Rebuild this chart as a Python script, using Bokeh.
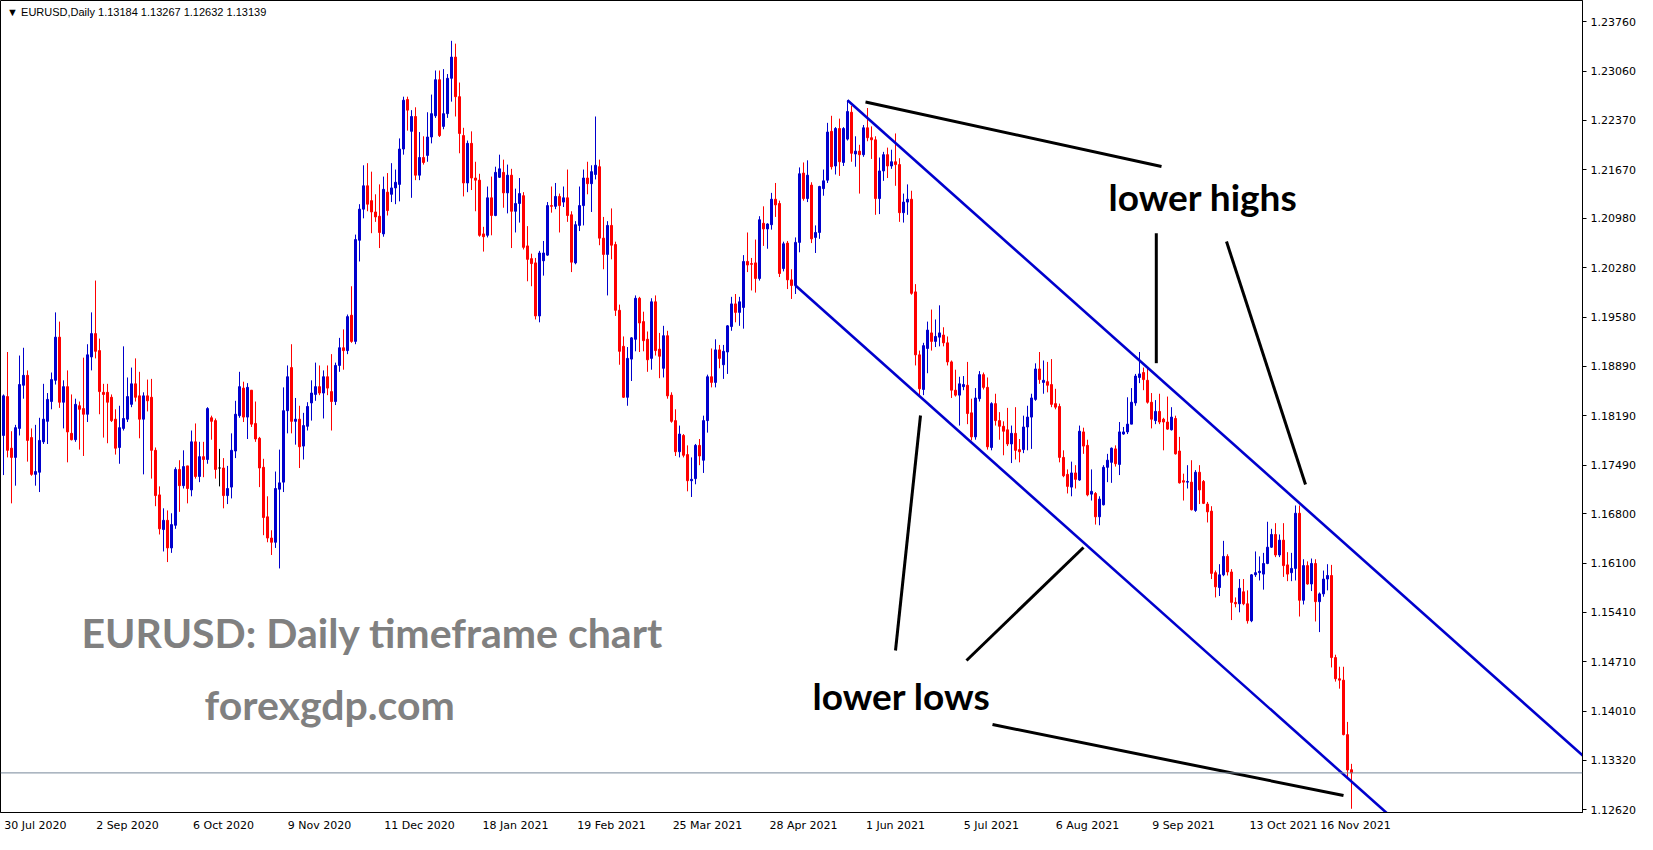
import pandas as pd
from bokeh.plotting import figure
from bokeh.models import ColumnDataSource, FixedTicker, PrintfTickFormatter, Label, Span
from bokeh.embed import file_html
from bokeh.resources import INLINE

symbol = "EURUSD"
timeframe = "Daily"
holidays = ["2020-12-25", "2021-01-01"]
dates = [d for d in pd.bdate_range("2020-07-30", "2021-11-17")
         if d.strftime("%Y-%m-%d") not in holidays]

opens = [
    1.1791, 1.1846, 1.1773, 1.1760, 1.1801, 1.1862, 1.1876, 1.1788, 1.1736, 1.1739,
    1.1782, 1.1811, 1.1839, 1.1869, 1.1930, 1.1838, 1.1860, 1.1794, 1.1785, 1.1833,
    1.1829, 1.1821, 1.1902, 1.1935, 1.1911, 1.1852, 1.1852, 1.1845, 1.1814, 1.1774,
    1.1801, 1.1814, 1.1835, 1.1864, 1.1847, 1.1814, 1.1847, 1.1845, 1.1770, 1.1707,
    1.1658, 1.1671, 1.1632, 1.1664, 1.1743, 1.1720, 1.1748, 1.1714, 1.1782, 1.1733,
    1.1761, 1.1757, 1.1816, 1.1812, 1.1745, 1.1745, 1.1706, 1.1718, 1.1769, 1.1819,
    1.1858, 1.1817, 1.1855, 1.1808, 1.1787, 1.1746, 1.1676, 1.1646, 1.1640, 1.1715,
    1.1725, 1.1826, 1.1887, 1.1811, 1.1814, 1.1776, 1.1804, 1.1837, 1.1849, 1.1860,
    1.1851, 1.1874, 1.1853, 1.1839, 1.1890, 1.1915, 1.1911, 1.1961, 1.1924, 1.2067,
    1.2111, 1.2144, 1.2123, 1.2107, 1.2101, 1.2076, 1.2135, 1.2132, 1.2141, 1.2146,
    1.2196, 1.2266, 1.2221, 1.2242, 1.2159, 1.2184, 1.2187, 1.2213, 1.2243, 1.2294,
    1.2228, 1.2246, 1.2296, 1.2326, 1.2270, 1.2215, 1.2148, 1.2204, 1.2155, 1.2152,
    1.2076, 1.2074, 1.2127, 1.2102, 1.2156, 1.2163, 1.2134, 1.2159, 1.2108, 1.2119,
    1.2130, 1.2059, 1.2041, 1.2035, 1.1960, 1.2038, 1.2046, 1.2116, 1.2115, 1.2129,
    1.2121, 1.2127, 1.2103, 1.2035, 1.2088, 1.2116, 1.2155, 1.2147, 1.2160, 1.2171,
    1.2070, 1.2047, 1.2088, 1.2061, 1.1968, 1.1917, 1.1845, 1.1899, 1.1927, 1.1985,
    1.1952, 1.1927, 1.1900, 1.1980, 1.1913, 1.1886, 1.1932, 1.1848, 1.1812, 1.1768,
    1.1791, 1.1764, 1.1727, 1.1730, 1.1777, 1.1756, 1.1812, 1.1874, 1.1866, 1.1912,
    1.1891, 1.1909, 1.1945, 1.1977, 1.1965, 1.1972, 1.2037, 1.2034, 1.2035, 1.2013,
    1.2091, 1.2083, 1.2089, 1.2125, 1.2119, 1.2027, 1.2063, 1.2011, 1.2003, 1.2064,
    1.2162, 1.2126, 1.2145, 1.2071, 1.2078, 1.2140, 1.2152, 1.2221, 1.2172, 1.2225,
    1.2177, 1.2210, 1.2248, 1.2189, 1.2193, 1.2188, 1.2226, 1.2212, 1.2209, 1.2126,
    1.2165, 1.2188, 1.2172, 1.2178, 1.2174, 1.2106, 1.2121, 1.2125, 1.1994, 1.1905,
    1.1856, 1.1914, 1.1936, 1.1924, 1.1930, 1.1933, 1.1922, 1.1895, 1.1855, 1.1848,
    1.1860, 1.1862, 1.1823, 1.1789, 1.1843, 1.1877, 1.1859, 1.1774, 1.1836, 1.1812,
    1.1804, 1.1799, 1.1779, 1.1794, 1.1771, 1.1771, 1.1803, 1.1817, 1.1842, 1.1885,
    1.1866, 1.1867, 1.1863, 1.1836, 1.1832, 1.1760, 1.1736, 1.1718, 1.1738, 1.1728,
    1.1796, 1.1777, 1.1708, 1.1709, 1.1676, 1.1693, 1.1746, 1.1753, 1.1772, 1.1750,
    1.1793, 1.1796, 1.1807, 1.1837, 1.1873, 1.1880, 1.1869, 1.1838, 1.1812, 1.1825,
    1.1814, 1.1810, 1.1799, 1.1815, 1.1769, 1.1727, 1.1725, 1.1725, 1.1685, 1.1739,
    1.1726, 1.1694, 1.1684, 1.1597, 1.1576, 1.1594, 1.1620, 1.1598, 1.1555, 1.1553,
    1.1570, 1.1553, 1.1529, 1.1594, 1.1597, 1.1595, 1.1610, 1.1633, 1.1651, 1.1622,
    1.1643, 1.1608, 1.1597, 1.1603, 1.1681, 1.1558, 1.1607, 1.1581, 1.1610, 1.1556,
    1.1567, 1.1588, 1.1593, 1.1477, 1.1447, 1.1445, 1.1368, 1.13184,
]
highs = [
    1.1849, 1.1909, 1.1797, 1.1806, 1.1904, 1.1915, 1.1883, 1.1801, 1.1806, 1.1816,
    1.1864, 1.1851, 1.1880, 1.1965, 1.1952, 1.1869, 1.1883, 1.1849, 1.1843, 1.1839,
    1.1901, 1.1920, 1.1965, 1.2010, 1.1928, 1.1864, 1.1864, 1.1849, 1.1828, 1.1833,
    1.1917, 1.1873, 1.1887, 1.1900, 1.1881, 1.1852, 1.1870, 1.1871, 1.1774, 1.1719,
    1.1688, 1.1685, 1.1681, 1.1746, 1.1756, 1.1770, 1.1748, 1.1798, 1.1808, 1.1782,
    1.1782, 1.1831, 1.1819, 1.1815, 1.1772, 1.1759, 1.1748, 1.1794, 1.1840, 1.1881,
    1.1867, 1.1865, 1.1855, 1.1839, 1.1789, 1.1758, 1.1705, 1.1657, 1.1740, 1.1771,
    1.1859, 1.1890, 1.1920, 1.1844, 1.1833, 1.1823, 1.1838, 1.1869, 1.1894, 1.1890,
    1.1883, 1.1890, 1.1906, 1.1894, 1.1929, 1.1941, 1.1962, 1.2002, 1.2075, 1.2118,
    1.2173, 1.2176, 1.2164, 1.2132, 1.2146, 1.2157, 1.2162, 1.2176, 1.2167, 1.2211,
    1.2270, 1.2270, 1.2251, 1.2255, 1.2220, 1.2214, 1.2248, 1.2273, 1.2307, 1.2307,
    1.2309, 1.2302, 1.2349, 1.2345, 1.2290, 1.2226, 1.2208, 1.2221, 1.2178, 1.2161,
    1.2086, 1.2143, 1.2157, 1.2171, 1.2188, 1.2181, 1.2174, 1.2168, 1.2140, 1.2155,
    1.2135, 1.2087, 1.2048, 1.2042, 1.2052, 1.2066, 1.2121, 1.2143, 1.2148, 1.2133,
    1.2143, 1.2167, 1.2108, 1.2094, 1.2143, 1.2167, 1.2178, 1.2173, 1.2242, 1.2181,
    1.2100, 1.2094, 1.2112, 1.2065, 1.1976, 1.1931, 1.1916, 1.1930, 1.1989, 1.1987,
    1.1966, 1.1938, 1.1985, 1.1989, 1.1936, 1.1946, 1.1939, 1.1852, 1.1828, 1.1805,
    1.1793, 1.1777, 1.1760, 1.1779, 1.1786, 1.1819, 1.1877, 1.1914, 1.1927, 1.1919,
    1.1919, 1.1947, 1.1987, 1.1991, 1.1987, 1.2046, 1.2078, 1.2042, 1.2068, 1.2101,
    1.2115, 1.2091, 1.2134, 1.2148, 1.2123, 1.2065, 1.2066, 1.2026, 1.2071, 1.2170,
    1.2177, 1.2180, 1.2149, 1.2088, 1.2144, 1.2167, 1.2233, 1.2243, 1.2227, 1.2239,
    1.2227, 1.2265, 1.2257, 1.2214, 1.2202, 1.2230, 1.2254, 1.2228, 1.2214, 1.2184,
    1.2192, 1.2198, 1.2195, 1.2218, 1.2183, 1.2133, 1.2146, 1.2137, 1.2005, 1.1911,
    1.1922, 1.1952, 1.1969, 1.1955, 1.1975, 1.1944, 1.1931, 1.1897, 1.1884, 1.1874,
    1.1875, 1.1895, 1.1843, 1.1858, 1.1882, 1.1880, 1.1873, 1.1838, 1.1850, 1.1824,
    1.1811, 1.1830, 1.1805, 1.1831, 1.1786, 1.1819, 1.1833, 1.1850, 1.1893, 1.1909,
    1.1897, 1.1895, 1.1899, 1.1857, 1.1836, 1.1770, 1.1743, 1.1754, 1.1749, 1.1805,
    1.1802, 1.1785, 1.1743, 1.1711, 1.1705, 1.1749, 1.1765, 1.1774, 1.1777, 1.1810,
    1.1803, 1.1845, 1.1858, 1.1878, 1.1909, 1.1887, 1.1885, 1.1851, 1.1841, 1.1850,
    1.1816, 1.1846, 1.1831, 1.1819, 1.1789, 1.1737, 1.1749, 1.1756, 1.1742, 1.1749,
    1.1728, 1.1697, 1.1691, 1.1600, 1.1609, 1.1642, 1.1623, 1.1602, 1.1562, 1.1588,
    1.1588, 1.1572, 1.1595, 1.1627, 1.1620, 1.1625, 1.1669, 1.1659, 1.1667, 1.1651,
    1.1667, 1.1626, 1.1625, 1.1692, 1.1692, 1.1616, 1.1613, 1.1617, 1.1616, 1.1569,
    1.1600, 1.1609, 1.1608, 1.1481, 1.1464, 1.1464, 1.1386, 1.13267,
]
lows = [
    1.1735, 1.1760, 1.1695, 1.1720, 1.1791, 1.1843, 1.1754, 1.1734, 1.1720, 1.1711,
    1.1779, 1.1779, 1.1828, 1.1863, 1.1830, 1.1801, 1.1753, 1.1784, 1.1782, 1.1771,
    1.1762, 1.1810, 1.1883, 1.1900, 1.1821, 1.1788, 1.1780, 1.1810, 1.1764, 1.1751,
    1.1798, 1.1810, 1.1831, 1.1839, 1.1787, 1.1736, 1.1825, 1.1730, 1.1691, 1.1651,
    1.1627, 1.1612, 1.1625, 1.1659, 1.1683, 1.1716, 1.1695, 1.1705, 1.1730, 1.1725,
    1.1732, 1.1751, 1.1785, 1.1730, 1.1719, 1.1688, 1.1694, 1.1702, 1.1759, 1.1816,
    1.1810, 1.1786, 1.1803, 1.1782, 1.1718, 1.1650, 1.1640, 1.1622, 1.1632, 1.1603,
    1.1711, 1.1794, 1.1794, 1.1778, 1.1745, 1.1757, 1.1798, 1.1812, 1.1840, 1.1848,
    1.1815, 1.1848, 1.1798, 1.1834, 1.1881, 1.1884, 1.1906, 1.1922, 1.1920, 1.2037,
    1.2098, 1.2108, 1.2077, 1.2093, 1.2056, 1.2072, 1.2102, 1.2121, 1.2118, 1.2122,
    1.2188, 1.2222, 1.2127, 1.2152, 1.2152, 1.2174, 1.2178, 1.2204, 1.2240, 1.2213,
    1.2224, 1.2240, 1.2263, 1.2242, 1.2190, 1.2129, 1.2135, 1.2138, 1.2108, 1.2072,
    1.2051, 1.2071, 1.2074, 1.2101, 1.2155, 1.2113, 1.2105, 1.2056, 1.2078, 1.2092,
    1.2054, 1.2009, 1.2002, 1.1955, 1.1951, 1.2017, 1.2045, 1.2106, 1.2111, 1.2078,
    1.2114, 1.2093, 1.2022, 1.2033, 1.2080, 1.2088, 1.2132, 1.2107, 1.2153, 1.2060,
    1.2026, 1.1989, 1.2040, 1.1960, 1.1891, 1.1844, 1.1833, 1.1868, 1.1910, 1.1909,
    1.1910, 1.1881, 1.1884, 1.1904, 1.1872, 1.1873, 1.1843, 1.1809, 1.1762, 1.1760,
    1.1760, 1.1712, 1.1704, 1.1722, 1.1749, 1.1738, 1.1795, 1.1859, 1.1859, 1.1886,
    1.1871, 1.1878, 1.1939, 1.1951, 1.1946, 1.1942, 1.2022, 1.1996, 1.1993, 1.2010,
    1.2059, 1.2055, 1.2082, 1.2100, 1.2015, 1.2023, 1.1998, 1.1984, 1.1991, 1.2050,
    1.2123, 1.2121, 1.2063, 1.2049, 1.2069, 1.2130, 1.2148, 1.2167, 1.2160, 1.2158,
    1.2172, 1.2208, 1.2178, 1.2171, 1.2133, 1.2185, 1.2207, 1.2182, 1.2103, 1.2104,
    1.2151, 1.2155, 1.2168, 1.2144, 1.2093, 1.2092, 1.2103, 1.1990, 1.1890, 1.1848,
    1.1848, 1.1879, 1.1911, 1.1916, 1.1917, 1.1917, 1.1890, 1.1844, 1.1846, 1.1805,
    1.1855, 1.1807, 1.1784, 1.1785, 1.1839, 1.1856, 1.1771, 1.1770, 1.1805, 1.1785,
    1.1763, 1.1776, 1.1752, 1.1757, 1.1753, 1.1766, 1.1770, 1.1772, 1.1840, 1.1864,
    1.1850, 1.1852, 1.1831, 1.1828, 1.1753, 1.1732, 1.1709, 1.1705, 1.1716, 1.1727,
    1.1765, 1.1705, 1.1699, 1.1665, 1.1664, 1.1692, 1.1725, 1.1724, 1.1747, 1.1735,
    1.1792, 1.1793, 1.1807, 1.1833, 1.1865, 1.1855, 1.1836, 1.1801, 1.1807, 1.1807,
    1.1770, 1.1799, 1.1798, 1.1764, 1.1723, 1.1699, 1.1716, 1.1685, 1.1683, 1.1694,
    1.1694, 1.1668, 1.1588, 1.1562, 1.1564, 1.1592, 1.1593, 1.1530, 1.1548, 1.1541,
    1.1551, 1.1525, 1.1527, 1.1591, 1.1586, 1.1573, 1.1609, 1.1632, 1.1619, 1.1619,
    1.1591, 1.1585, 1.1585, 1.1586, 1.1535, 1.1552, 1.1580, 1.1571, 1.1528, 1.1513,
    1.1563, 1.1572, 1.1463, 1.1443, 1.1433, 1.1367, 1.1308, 1.12632,
]
closes = [
    1.1847, 1.1770, 1.1760, 1.1802, 1.1863, 1.1876, 1.1784, 1.1736, 1.1740, 1.1784,
    1.1814, 1.1842, 1.1870, 1.1930, 1.1838, 1.1860, 1.1796, 1.1785, 1.1835, 1.1828,
    1.1821, 1.1905, 1.1935, 1.1910, 1.1853, 1.1849, 1.1838, 1.1812, 1.1773, 1.1802,
    1.1815, 1.1846, 1.1864, 1.1845, 1.1814, 1.1847, 1.1840, 1.1770, 1.1706, 1.1659,
    1.1671, 1.1632, 1.1665, 1.1743, 1.1720, 1.1747, 1.1716, 1.1782, 1.1733, 1.1761,
    1.1757, 1.1829, 1.1811, 1.1743, 1.1745, 1.1706, 1.1716, 1.1770, 1.1821, 1.1860,
    1.1817, 1.1859, 1.1807, 1.1786, 1.1745, 1.1675, 1.1646, 1.1640, 1.1716, 1.1724,
    1.1826, 1.1874, 1.1811, 1.1814, 1.1775, 1.1805, 1.1832, 1.1851, 1.1860, 1.1851,
    1.1874, 1.1858, 1.1839, 1.1890, 1.1915, 1.1911, 1.1959, 1.1924, 1.2068, 1.2111,
    1.2144, 1.2118, 1.2107, 1.2100, 1.2078, 1.2139, 1.2109, 1.2141, 1.2149, 1.2196,
    1.2265, 1.2251, 1.2242, 1.2159, 1.2184, 1.2177, 1.2213, 1.2246, 1.2294, 1.2215,
    1.2246, 1.2296, 1.2326, 1.2270, 1.2218, 1.2148, 1.2204, 1.2155, 1.2152, 1.2074,
    1.2072, 1.2127, 1.2102, 1.2163, 1.2168, 1.2134, 1.2159, 1.2108, 1.2119, 1.2133,
    1.2057, 1.2040, 1.2034, 1.1960, 1.2049, 1.2049, 1.2116, 1.2115, 1.2129, 1.2116,
    1.2127, 1.2102, 1.2036, 1.2089, 1.2116, 1.2155, 1.2147, 1.2164, 1.2173, 1.2070,
    1.2047, 1.2088, 1.2060, 1.1968, 1.1910, 1.1845, 1.1900, 1.1929, 1.1985, 1.1950,
    1.1925, 1.1898, 1.1980, 1.1911, 1.1903, 1.1932, 1.1847, 1.1811, 1.1768, 1.1793,
    1.1763, 1.1727, 1.1729, 1.1777, 1.1762, 1.1812, 1.1874, 1.1866, 1.1912, 1.1900,
    1.1910, 1.1946, 1.1977, 1.1965, 1.1980, 1.2037, 1.2032, 1.2033, 1.2013, 1.2096,
    1.2083, 1.2090, 1.2125, 1.2117, 1.2020, 1.2062, 1.2011, 1.2003, 1.2064, 1.2161,
    1.2126, 1.2159, 1.2069, 1.2078, 1.2143, 1.2151, 1.2220, 1.2171, 1.2225, 1.2178,
    1.2225, 1.2249, 1.2190, 1.2193, 1.2188, 1.2226, 1.2212, 1.2209, 1.2126, 1.2165,
    1.2188, 1.2172, 1.2178, 1.2174, 1.2106, 1.2121, 1.2125, 1.1992, 1.1905, 1.1857,
    1.1918, 1.1940, 1.1924, 1.1931, 1.1936, 1.1922, 1.1895, 1.1855, 1.1848, 1.1864,
    1.1863, 1.1822, 1.1789, 1.1844, 1.1877, 1.1859, 1.1775, 1.1836, 1.1812, 1.1804,
    1.1797, 1.1779, 1.1794, 1.1770, 1.1768, 1.1803, 1.1817, 1.1844, 1.1885, 1.1870,
    1.1869, 1.1862, 1.1835, 1.1831, 1.1760, 1.1734, 1.1719, 1.1738, 1.1729, 1.1797,
    1.1776, 1.1707, 1.1712, 1.1676, 1.1701, 1.1746, 1.1756, 1.1773, 1.1751, 1.1796,
    1.1796, 1.1807, 1.1838, 1.1875, 1.1878, 1.1870, 1.1838, 1.1814, 1.1825, 1.1810,
    1.1810, 1.1800, 1.1817, 1.1765, 1.1724, 1.1725, 1.1726, 1.1686, 1.1739, 1.1714,
    1.1695, 1.1683, 1.1596, 1.1577, 1.1594, 1.1620, 1.1598, 1.1555, 1.1553, 1.1575,
    1.1553, 1.1529, 1.1594, 1.1597, 1.1599, 1.1610, 1.1633, 1.1651, 1.1622, 1.1643,
    1.1607, 1.1595, 1.1603, 1.1681, 1.1558, 1.1607, 1.1581, 1.1610, 1.1556, 1.1567,
    1.1588, 1.1593, 1.1477, 1.1447, 1.1445, 1.1368, 1.1318, 1.13139,
]

price_ticks = [1.12620, 1.13320, 1.14010, 1.14710, 1.15410, 1.16100, 1.16800,
               1.17490, 1.18190, 1.18890, 1.19580, 1.20280, 1.20980, 1.21670,
               1.22370, 1.23060, 1.23760]
date_ticks = ["2020-07-30", "2020-09-02", "2020-10-06", "2020-11-09", "2020-12-11",
              "2021-01-18", "2021-02-19", "2021-03-25", "2021-04-28", "2021-06-01",
              "2021-07-05", "2021-08-06", "2021-09-09", "2021-10-13", "2021-11-16"]

# trend channel anchors (date, price)
upper_channel = [("2021-05-25", 1.2265), ("2021-09-03", 1.1897)]
lower_channel = [("2021-05-06", 1.2003), ("2021-08-06", 1.1670)]

# ---------------------------------------------------------------------------
date_keys = [d.strftime("%Y-%m-%d") for d in dates]
pos = {k: i for i, k in enumerate(date_keys)}
idx = list(range(len(dates)))

BULL, BEAR, DOJI = "#0000CD", "#FF0000", "#000000"
colors = [BULL if c > o else (BEAR if c < o else DOJI) for o, c in zip(opens, closes)]
src = ColumnDataSource(dict(
    x=idx, o=opens, h=highs, l=lows, c=closes,
    top=[max(o, c) for o, c in zip(opens, closes)],
    bot=[min(o, c) for o, c in zip(opens, closes)],
    color=colors,
))

FRAME_W, FRAME_H = 1582, 812
PX_PER_BAR = 4.0
PRICE_PER_PX = 0.00014139
x_start = -0.75
x_end = x_start + FRAME_W / PX_PER_BAR
y_top = 1.24060
y_bottom = y_top - FRAME_H * PRICE_PER_PX

p = figure(frame_width=FRAME_W, frame_height=FRAME_H,
           x_range=(x_start, x_end), y_range=(y_bottom, y_top),
           output_backend="svg", toolbar_location=None,
           y_axis_location="right",
           min_border_left=0, min_border_top=0,
           min_border_right=0, min_border_bottom=0)
p.background_fill_color = "white"
p.border_fill_color = "white"
p.outline_line_color = "black"
p.outline_line_width = 1
p.xgrid.visible = False
p.ygrid.visible = False

# candles
p.segment(x0="x", y0="l", x1="x", y1="h", color="color", line_width=1, source=src)
p.vbar(x="x", width=0.5, top="top", bottom="bot", fill_color="color",
       line_color="color", line_width=1, source=src)

# channel lines
def channel(anchors, extend_to):
    (d0, p0), (d1, p1) = anchors
    i0, i1 = pos[d0], pos[d1]
    slope = (p1 - p0) / (i1 - i0)
    return [i0, extend_to], [p0, p0 + slope * (extend_to - i0)]

ux, uy = channel(upper_channel, x_end + 2)
p.line(ux, uy, line_color="#0000CD", line_width=2.6)
lx, ly = channel(lower_channel, 360)
p.line(lx, ly, line_color="#0000CD", line_width=2.6)

# hand-drawn black pointer lines
pointers = [
    ((215.5, 1.22625), (289.5, 1.21713)),
    ((288.2, 1.20770), (288.2, 1.18932)),
    ((305.75, 1.20652), (325.5, 1.17217)),
    ((223.0, 1.14870), (229.25, 1.18192)),
    ((240.75, 1.14728), (270.0, 1.16326)),
    ((247.25, 1.13823), (335.0, 1.12819)),
]
p.segment(x0=[a[0] for a, b in pointers], y0=[a[1] for a, b in pointers],
          x1=[b[0] for a, b in pointers], y1=[b[1] for a, b in pointers],
          line_color="black", line_width=3)

# current price line
p.add_layout(Span(location=closes[-1], dimension="width",
                  line_color="#778899", line_width=1))

# texts
p.add_layout(Label(x=276.25, y=1.2129, text="lower highs", text_font="Lato",
                   text_font_style="bold", text_font_size="37px",
                   text_color="black", text_align="left", text_baseline="alphabetic"))
p.add_layout(Label(x=202.25, y=1.1423, text="lower lows", text_font="Lato",
                   text_font_style="bold", text_font_size="37px",
                   text_color="black", text_align="left", text_baseline="alphabetic"))
p.add_layout(Label(x=19.5, y=1.1513, text=f"{symbol}: {timeframe} timeframe chart",
                   text_font="Lato", text_font_style="bold", text_font_size="41px",
                   text_color="#808080", text_align="left", text_baseline="alphabetic"))
p.add_layout(Label(x=50.25, y=1.1411, text="forexgdp.com",
                   text_font="Lato", text_font_style="bold", text_font_size="41px",
                   text_color="#808080", text_align="left", text_baseline="alphabetic"))
header = (f"\u25BC {symbol},{timeframe}  {opens[-1]:.5f} {highs[-1]:.5f} "
          f"{lows[-1]:.5f} {closes[-1]:.5f}")
p.add_layout(Label(x=0.9, y=1.23904, text=header, text_font="Liberation Sans",
                   text_font_size="11px", text_color="black",
                   text_align="left", text_baseline="middle"))

# price label on the axis
p.add_layout(Label(x=x_end, y=closes[-1], x_offset=1, text=f"{closes[-1]:.5f}",
                   text_font="DejaVu Sans", text_font_size="11px",
                   text_color="black", text_align="left", text_baseline="middle",
                   background_fill_color="white", border_line_color="black",
                   padding=2))

# y axis (right)
ya = p.yaxis[0]
ya.ticker = FixedTicker(ticks=price_ticks)
ya.formatter = PrintfTickFormatter(format="%.5f")
ya.major_label_text_font = "DejaVu Sans"
ya.major_label_text_font_size = "11px"
ya.major_label_text_color = "black"
ya.major_tick_out = 4
ya.major_tick_in = 0
ya.minor_tick_out = 0
ya.minor_tick_in = 0
ya.major_label_standoff = 4
ya.axis_line_color = "black"
ya.major_tick_line_color = "black"

# x axis (bottom): text starts at the labelled bar, as in MT4
tick_pos, overrides = [], {}
last = len(date_ticks) - 1
for k, d in enumerate(date_ticks):
    ts = pd.Timestamp(d)
    lab = f"{ts.day} {ts.strftime('%b %Y')}"
    t = pos[d] + int(round(len(lab) * 5.8 / 2 / PX_PER_BAR))
    if k == last:
        t -= 6
    tick_pos.append(t)
    overrides[t] = lab
xa = p.xaxis[0]
xa.ticker = FixedTicker(ticks=tick_pos)
xa.major_label_overrides = overrides
xa.major_label_text_font = "DejaVu Sans"
xa.major_label_text_font_size = "11px"
xa.major_label_text_color = "black"
xa.major_tick_out = 0
xa.major_tick_in = 0
xa.minor_tick_out = 0
xa.minor_tick_in = 0
xa.major_label_standoff = 6
xa.axis_line_color = "black"

open("out.html", "w").write(file_html(p, INLINE))
